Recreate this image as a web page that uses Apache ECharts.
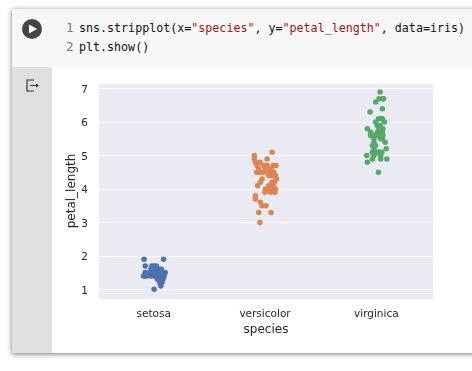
<!DOCTYPE html>
<html>
<head>
<meta charset="utf-8">
<script src="https://cdn.jsdelivr.net/npm/echarts@6/dist/echarts.min.js"></script>
<style>
html, body { margin: 0; padding: 0; background: #fff; overflow: hidden; }
#page { position: relative; width: 472px; height: 371px; }
#card { position: absolute; left: 12px; top: 9px; width: 470px; height: 344px; background: #fff; box-shadow: 0 1px 5px rgba(0,0,0,.55); }
#code { position: absolute; left: 12px; top: 9px; width: 460px; height: 58px; background: #f7f7f7; }
#gutter { position: absolute; left: 12px; top: 67px; width: 40px; height: 286px; background: #e0e0e0; }
.line { position: absolute; left: 79px; font: 11.67px/16px "DejaVu Sans Mono", monospace; color: #111; white-space: pre; }
.num { position: absolute; left: 66px; font: 12.5px/16px "DejaVu Sans Mono", monospace; color: #777; }
.str { color: #a31515; }
svg { position: absolute; }
#chart { position: absolute; left: 0; top: 0; width: 472px; height: 371px; }
</style>
</head>
<body>
<div id="page">
  <div id="card"></div>
  <div id="code"></div>
  <div id="gutter"></div>
  <svg style="left:22px;top:19px" width="20" height="20"><circle cx="10" cy="10" r="10" fill="#444"/><path d="M7 5.5 L15 10 L7 14.5 Z" fill="#fff"/></svg>
  <svg style="left:25px;top:78px" width="16" height="16"><path d="M9 2 H2 V13 H9 M5 7.5 H12" fill="none" stroke="#333" stroke-width="1.2"/><path d="M11 5.5 L14 7.5 L11 9.5 Z" fill="#333"/></svg>
  <div class="num" style="top:20px">1</div>
  <div class="num" style="top:39px">2</div>
  <div class="line" style="top:20px">sns.stripplot(x=<span class="str">"species"</span>, y=<span class="str">"petal_length"</span>, data=iris)</div>
  <div class="line" style="top:39px">plt.show()</div>
  <div id="chart"></div>
</div>
<script>
const categories = ['setosa', 'versicolor', 'virginica'];
const yTicks = [1, 2, 3, 4, 5, 6, 7];

// petal length and horizontal jitter (in category units), one entry per dot
const setosaY = [1.0, 1.1, 1.2, 1.2, 1.3, 1.3, 1.3, 1.3, 1.3, 1.3, 1.3,
  1.4, 1.4, 1.4, 1.4, 1.4, 1.4, 1.4, 1.4, 1.4, 1.4, 1.4, 1.4, 1.4,
  1.5, 1.5, 1.5, 1.5, 1.5, 1.5, 1.5, 1.5, 1.5, 1.5, 1.5, 1.5, 1.5,
  1.6, 1.6, 1.6, 1.6, 1.6, 1.6, 1.6, 1.7, 1.7, 1.7, 1.7, 1.9, 1.9];
const setosaJitter = [0.00, 0.06, 0.05, 0.07, 0.04, 0.06, 0.07, 0.05, 0.03, 0.08, 0.06,
  -0.095, -0.08, -0.065, 0.00, 0.02, 0.03, 0.05, 0.07, 0.09, 0.04, 0.06, 0.01, -0.03,
  -0.08, -0.075, -0.03, 0.01, 0.03, 0.05, 0.08, 0.10, 0.06, 0.04, 0.00, -0.02, 0.07,
  -0.03, -0.01, 0.00, 0.02, 0.04, 0.05, 0.065, -0.08, -0.02, 0.00, 0.02, -0.09, 0.085];

const versicolorY = [5.1, 5.0, 4.9, 4.9, 4.8, 4.8, 4.7, 4.7, 4.7, 4.7, 4.7, 4.6, 4.6, 4.6,
  4.5, 4.5, 4.5, 4.5, 4.5, 4.5, 4.5, 4.4, 4.4, 4.4, 4.4, 4.3, 4.3, 4.2, 4.2, 4.2, 4.2,
  4.1, 4.1, 4.1, 4.0, 4.0, 4.0, 4.0, 4.0, 3.9, 3.9, 3.9, 3.8, 3.7, 3.6, 3.5, 3.5, 3.3, 3.3, 3.0];
const versicolorJitter = [0.06, -0.10, -0.10, 0.015, -0.09, -0.05, 0.095, -0.075, -0.015, 0.015, 0.07,
  -0.06, 0.00, 0.05, -0.08, -0.045, -0.015, 0.06, 0.03, -0.065, 0.075, 0.07, 0.09, 0.05, 0.03,
  -0.03, 0.10, -0.045, 0.075, 0.06, 0.08, -0.07, 0.03, 0.07, 0.00, 0.03, 0.06, 0.09, 0.015,
  -0.005, 0.045, 0.085, -0.09, -0.09, -0.045, -0.03, 0.005, -0.06, 0.05, -0.05];

const virginicaY = [6.9, 6.7, 6.7, 6.7, 6.6, 6.4, 6.3, 6.1, 6.1, 6.1, 6.0, 6.0, 5.9, 5.9, 5.8, 5.8, 5.8,
  5.7, 5.7, 5.7, 5.6, 5.6, 5.6, 5.6, 5.6, 5.6, 5.5, 5.5, 5.5, 5.4, 5.4, 5.3, 5.3, 5.2, 5.2,
  5.1, 5.1, 5.1, 5.1, 5.1, 5.1, 5.1, 5.0, 5.0, 5.0, 4.9, 4.9, 4.9, 4.8, 4.5];
const virginicaJitter = [0.03, 0.02, 0.055, 0.06, -0.01, 0.05, -0.06, 0.015, 0.035, 0.05, -0.01, 0.07, 0.005, 0.03, -0.085, 0.055, 0.02,
  -0.055, 0.005, 0.05, -0.055, -0.025, 0.005, 0.02, 0.04, 0.055, 0.035, 0.05, -0.025, 0.075, -0.025, -0.04, -0.01, 0.085, -0.025,
  -0.04, -0.01, 0.02, 0.035, -0.025, 0.005, 0.045, -0.09, 0.035, -0.025, -0.04, 0.035, 0.09, -0.085, 0.015];

function strip(index, ys, jitter, color) {
  return {
    type: 'scatter',
    xAxisIndex: 1,
    symbolSize: 5.5,
    itemStyle: { color: color, opacity: 1 },
    data: ys.map((y, i) => [index + jitter[i], y])
  };
}

const myChart = echarts.init(document.getElementById('chart'), null, { renderer: 'canvas' });
const textColor = '#262626';
const font = '"DejaVu Sans", sans-serif';

myChart.setOption({
  animation: false,
  grid: { left: 99, top: 83, width: 334, height: 216, backgroundColor: '#eaeaf2', show: true, borderWidth: 0 },
  xAxis: [
    {
      type: 'category',
      data: categories,
      name: 'species',
      nameLocation: 'middle',
      nameGap: 25,
      nameMoveOverlap: false,
      nameTextStyle: { color: textColor, fontSize: 12, fontFamily: font },
      axisLine: { show: false },
      axisTick: { show: false },
      splitLine: { show: false },
      axisLabel: { color: textColor, fontSize: 10.5, fontFamily: font, margin: 10, padding: [0, 2, 0, 0] }
    },
    // hidden axis that places the jittered dots, each category sits at 0, 1, 2
    { type: 'value', min: -0.495, max: 2.505, show: false, splitLine: { show: false } }
  ],
  yAxis: {
    type: 'value',
    min: 0.71,
    max: 7.17,
    name: 'petal_length',
    nameLocation: 'middle',
    nameGap: 21,
    nameMoveOverlap: false,
    nameTextStyle: { color: textColor, fontSize: 12, fontFamily: font },
    axisLine: { show: false },
    axisTick: { show: false },
    customValues: yTicks,
    axisLabel: { color: textColor, fontSize: 10.5, fontFamily: font, margin: 11, verticalAlign: 'top', lineHeight: 3, customValues: yTicks },
    splitLine: { show: true, lineStyle: { color: '#fff', width: 1 } }
  },
  series: [
    strip(0, setosaY, setosaJitter, '#4c72b0'),
    strip(1, versicolorY, versicolorJitter, '#dd8452'),
    strip(2, virginicaY, virginicaJitter, '#55a868')
  ]
});
</script>
</body>
</html>
